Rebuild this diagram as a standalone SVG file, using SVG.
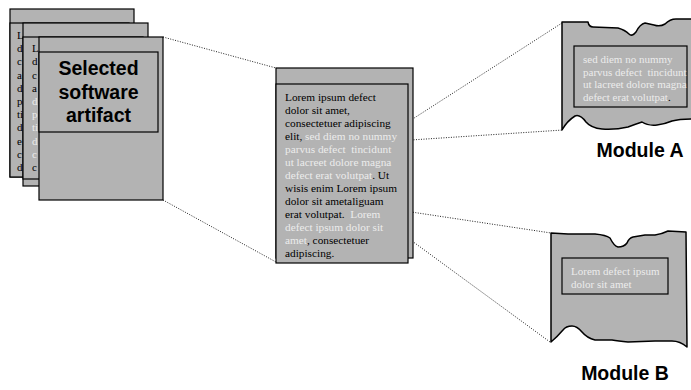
<svg xmlns="http://www.w3.org/2000/svg" width="691" height="390" viewBox="0 0 691 390">
<style>
.pg{fill:#b3b3b3;stroke:#000;stroke-width:1.2}
.sh{fill:#b3b3b3;stroke:#000;stroke-width:1.5;stroke-linejoin:round}
.t{font-family:"Liberation Serif","Times New Roman",serif;font-size:11px;fill:#000;white-space:pre}
.m{font-size:11.3px}
.lt{fill:#ececec}
.b{font-family:"Liberation Sans",Arial,sans-serif;font-weight:bold;fill:#000;text-anchor:middle}
.c{fill:none;stroke:#222;stroke-width:1;stroke-dasharray:1 1.5}
</style>
<rect width="691" height="390" fill="#fff"/>
<g id="connectors">
<line class="c" x1="163" y1="37" x2="276" y2="68"/>
<line class="c" x1="163" y1="200" x2="276" y2="262"/>
<line class="c" x1="408" y1="122" x2="562" y2="23"/>
<line class="c" x1="411" y1="140" x2="563" y2="130"/>
<line class="c" x1="398" y1="210" x2="551" y2="233"/>
<line class="c" x1="412" y1="241" x2="550" y2="342"/>
</g>
<g id="doc1">
<rect class="pg" x="10" y="9" width="124" height="168"/>
<rect class="pg" x="10" y="23" width="119" height="154"/>
<text class="t" x="17" y="39">L</text>
<text class="t" x="17" y="52.2">d</text>
<text class="t" x="17" y="65.4">c</text>
<text class="t" x="17" y="78.6">a</text>
<text class="t" x="17" y="91.8">d</text>
<text class="t" x="17" y="105">p</text>
<text class="t" x="17" y="118.2">ti</text>
<text class="t" x="17" y="131.4">d</text>
<text class="t" x="17" y="144.6">e</text>
<text class="t" x="17" y="157.8">c</text>
<text class="t" x="17" y="171">d</text>
</g>
<g id="doc2">
<rect class="pg" x="23" y="23" width="125" height="163"/>
<rect class="pg" x="23" y="37" width="120" height="142"/>
<text class="t" x="32" y="52.2">L</text>
<text class="t" x="32" y="65.4">d</text>
<text class="t" x="32" y="78.6">c</text>
<text class="t" x="32" y="91.8">a</text>
<text class="t lt" x="32" y="105">d</text>
<text class="t lt" x="32" y="118.2">p</text>
<text class="t lt" x="32" y="131.4">ti</text>
<text class="t lt" x="32" y="144.6">d</text>
<text class="t lt" x="32" y="157.8">c</text>
<text class="t" x="32" y="171">c</text>
</g>
<g id="selected-artifact">
<rect class="pg" x="39" y="37" width="124" height="163"/>
<rect class="pg" x="39" y="52" width="119" height="80"/>
<text class="b" x="98.5" y="75" font-size="19.5">Selected</text>
<text class="b" x="98.5" y="99" font-size="19.5">software</text>
<text class="b" x="98.5" y="122" font-size="19.5">artifact</text>
</g>
<g id="center-doc">
<rect class="pg" x="276" y="68" width="137" height="190"/>
<rect class="pg" x="276" y="84" width="132" height="179"/>
<text class="t m" x="285" y="101">Lorem ipsum defect</text>
<text class="t m" x="285" y="114">dolor sit amet,</text>
<text class="t m" x="285" y="127">consectetuer adipiscing</text>
<text class="t m" x="285" y="140">elit, <tspan class="lt">sed diem no nummy</tspan></text>
<text class="t m lt" x="285" y="153">parvus defect  tincidunt</text>
<text class="t m lt" x="285" y="166">ut lacreet dolore magna</text>
<text class="t m" x="285" y="179"><tspan class="lt">defect erat volutpat</tspan>. Ut</text>
<text class="t m" x="285" y="192">wisis enim Lorem ipsum</text>
<text class="t m" x="285" y="205">dolor sit ametaliguam</text>
<text class="t m" x="285" y="218">erat volutpat.  <tspan class="lt">Lorem</tspan></text>
<text class="t m lt" x="285" y="231">defect ipsum dolor sit</text>
<text class="t m" x="285" y="244"><tspan class="lt">amet</tspan>, consectetuer</text>
<text class="t m" x="285" y="257">adipiscing.</text>
</g>
<g id="module-a">
<path class="sh" d="M562,22 L588,22 Q589,27 593,27 L618,28 Q625,30 629,34 Q632,37 636,32 Q640,24 645,23 L654,25 Q660,27 665,24 Q670,19 676,19 L694,19 L694,119 Q680,119 672,121 Q665,124 657,125 Q648,126 642,122 Q636,124 628,127 Q615,130 602,129 Q591,128 586,122 Q580,114 575,116 Q567,121 562,130 Z"/>
<rect class="pg" x="574" y="46" width="113" height="61"/>
<text class="t lt" x="583" y="63">sed diem no nummy</text>
<text class="t lt" x="583" y="75.7">parvus defect  tincidunt</text>
<text class="t lt" x="583" y="88.4">ut lacreet dolore magna</text>
<text class="t" x="583" y="101"><tspan class="lt">defect erat volutpat</tspan>.</text>
<text class="b" x="640" y="157" font-size="19.5">Module A</text>
</g>
<g id="module-b">
<path class="sh" d="M551,233 L568,234 L595,234 Q606,235 610,238 Q614,246 618,247 Q624,247 627,243 Q629,238 633,237 L645,235 L655,235 Q662,234 668,231 L686,232 L687,347 Q680,341 672,341 L655,341 L628,342 Q618,341 612,340 L595,340 Q587,338 582,332 Q577,326 572,326 Q566,326 563,330 Q557,337 551,342 Z"/>
<rect class="pg" x="562" y="258" width="106" height="36"/>
<text class="t lt" x="571" y="275">Lorem defect ipsum</text>
<text class="t lt" x="571" y="287.5">dolor sit amet</text>
<text class="b" x="625" y="380" font-size="19.5">Module B</text>
</g>
</svg>
